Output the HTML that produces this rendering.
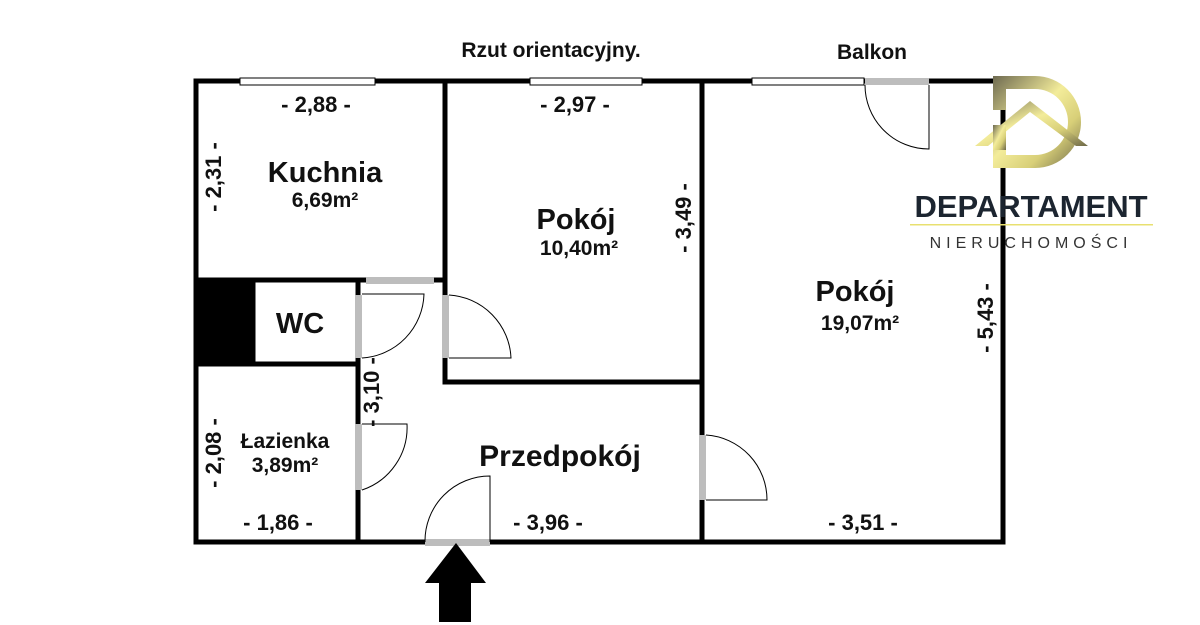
<!DOCTYPE html>
<html><head><meta charset="utf-8"><style>
html,body{margin:0;padding:0;background:#fff;}
svg{display:block;}
text{font-family:"Liberation Sans",Arial,sans-serif;font-weight:bold;fill:#111;}
</style></head><body>
<svg width="1200" height="625" viewBox="0 0 1200 625" xmlns="http://www.w3.org/2000/svg">
<defs>
<linearGradient id="g" x1="0" y1="0" x2="1" y2="1">
<stop offset="0" stop-color="#6e6a50"/><stop offset="0.45" stop-color="#f3ec9a"/><stop offset="0.7" stop-color="#d8cf78"/><stop offset="1" stop-color="#6d6848"/>
</linearGradient>
</defs>
<g stroke="#000" stroke-width="5" fill="none" stroke-linecap="square">
<path d="M196 81 H1003 V542 H196 Z"/>
<path d="M445 81 V382 H702"/>
<path d="M702 81 V542"/>
<path d="M196 280 H445"/>
<path d="M358 280 V542"/>
<path d="M196 364 H358"/>
<path d="M253 280 V364"/>
</g>
<rect x="196" y="280" width="58" height="84" fill="#000"/>
<g fill="#fff" stroke="#000" stroke-width="1">
<rect x="240" y="78" width="135" height="7"/>
<rect x="530" y="78" width="112" height="7"/>
<rect x="752" y="78" width="112" height="7"/>
</g>
<g fill="#bdbdbd">
<rect x="366" y="277" width="68" height="7"/>
<rect x="355" y="295" width="7" height="63"/>
<rect x="442" y="295" width="7" height="63"/>
<rect x="355" y="424" width="7" height="66"/>
<rect x="699" y="435" width="7" height="65"/>
<rect x="425" y="539" width="65" height="7"/>
<rect x="865" y="78" width="64" height="7"/>
</g>
<g stroke="#000" stroke-width="1" fill="none">
<path d="M362 294 H424 A66 66 0 0 1 362 358"/>
<path d="M449 358 H511 A66 66 0 0 0 449 295"/>
<path d="M362 424 H407 A66 66 0 0 1 362 490"/>
<path d="M706 500 H767 A65 65 0 0 0 706 435"/>
<path d="M490 542 V476 A65 65 0 0 0 425 542"/>
<path d="M929 85 V149 A64 64 0 0 1 865 85"/>
</g>
<path d="M456 543 L486 583 L471 583 L471 622 L439 622 L439 583 L425 583 Z" fill="#000"/>
<text x="551" y="57" font-size="21" text-anchor="middle">Rzut orientacyjny.</text>
<text x="872" y="59" font-size="21" text-anchor="middle">Balkon</text>
<g font-size="22" text-anchor="middle">
<text x="316" y="112">- 2,88 -</text>
<text x="575" y="112">- 2,97 -</text>
<text x="278" y="530">- 1,86 -</text>
<text x="548" y="530">- 3,96 -</text>
<text x="863" y="530">- 3,51 -</text>
<text transform="translate(221,177) rotate(-90)">- 2,31 -</text>
<text transform="translate(691,218) rotate(-90)">- 3,49 -</text>
<text transform="translate(993,318) rotate(-90)">- 5,43 -</text>
<text transform="translate(221,453) rotate(-90)">- 2,08 -</text>
<text transform="translate(379,392) rotate(-90)">- 3,10 -</text>
</g>
<text x="325" y="182" font-size="29" text-anchor="middle">Kuchnia</text>
<text x="325" y="207" font-size="21" text-anchor="middle">6,69m²</text>
<text x="576" y="229" font-size="29" text-anchor="middle">Pokój</text>
<text x="579" y="255" font-size="21" text-anchor="middle">10,40m²</text>
<text x="855" y="301" font-size="29" text-anchor="middle">Pokój</text>
<text x="860" y="330" font-size="21" text-anchor="middle">19,07m²</text>
<text x="300" y="333" font-size="29" text-anchor="middle">WC</text>
<text x="285" y="448" font-size="21" text-anchor="middle">Łazienka</text>
<text x="285" y="472" font-size="21" text-anchor="middle">3,89m²</text>
<text x="560" y="466" font-size="30" text-anchor="middle">Przedpokój</text>
<g fill="url(#g)">
<path d="M993 76 H1035 A46 46 0 0 1 1035 168 H993 V150 H1006 V155 H1035 A33 33 0 0 0 1035 89 H1006 V110 H993 Z"/>
<path d="M975 146 L1030 101 L1088 146 H1076 L1030 112 L988 146 Z"/>
<rect x="993" y="125" width="13" height="25"/>
</g>
<text x="1031" y="217" font-size="31" text-anchor="middle" style="fill:#1c2530;">DEPARTAMENT</text>
<rect x="910" y="224" width="243" height="1.5" fill="#e8e070"/>
<text x="1031" y="248" font-size="16" text-anchor="middle" style="fill:#333;font-weight:normal;letter-spacing:5px">NIERUCHOMOŚCI</text>
</svg>
</body></html>
